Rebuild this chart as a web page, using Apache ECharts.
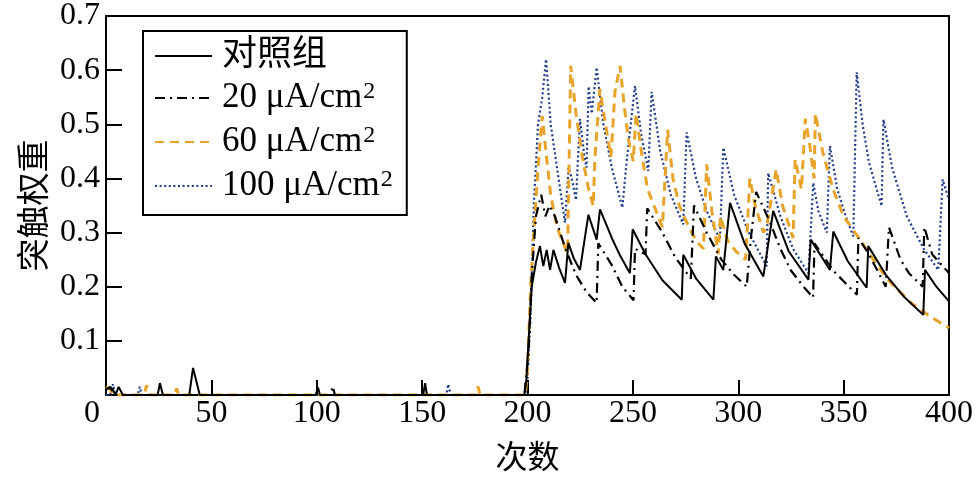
<!DOCTYPE html>
<html><head><meta charset="utf-8">
<script src="https://cdn.jsdelivr.net/npm/echarts@6/dist/echarts.min.js"></script>
<style>html,body{margin:0;padding:0;background:#fff}#c{width:978px;height:485px}</style>
</head><body><div id="c"></div>
<script>
const seriesNames = ['对照组', '20 μA/cm²', '60 μA/cm²', '100 μA/cm²'];
const xTickValues = [0, 50, 100, 150, 200, 250, 300, 350, 400];
const yTickValues = [0, 0.1, 0.2, 0.3, 0.4, 0.5, 0.6, 0.7];

const control = [[0,0.012],[3,0.012],[4.5,0],[6,0.015],[8,0],[24.5,0],[25.6,0.022],[27,0],[39.5,0],[41.3,0.05],[44.5,0],[99.5,0],[100.6,0.014],[101.5,0],[150.5,0],[151.4,0.022],[152.3,0],[198.5,0],[199.5,0.03],[200.8,0.12],[202,0.2],[204,0.245],[205.9,0.275],[207.5,0.238],[209.1,0.268],[210.7,0.231],[212.3,0.268],[215,0.235],[217.8,0.207],[219.4,0.281],[222,0.252],[224.9,0.231],[228.9,0.333],[232.8,0.287],[234.4,0.343],[240,0.29],[244,0.257],[248.6,0.225],[249.9,0.306],[256,0.26],[264,0.212],[273.2,0.176],[273.9,0.259],[280,0.215],[288.2,0.176],[289.4,0.256],[292.9,0.231],[296.1,0.355],[303,0.28],[311.9,0.219],[316.6,0.34],[324,0.265],[333.3,0.213],[334.4,0.287],[343.5,0.231],[345.1,0.302],[352,0.247],[360.9,0.198],[361.7,0.275],[370,0.222],[379,0.18],[387.8,0.148],[388.6,0.231],[394,0.2],[400,0.173]];

const ua20 = [[0,0.01],[2,0.015],[4,0],[106.5,0],[107.6,0.016],[108.6,0],[198.5,0],[200.5,0.08],[202,0.22],[204,0.33],[206.5,0.37],[208.5,0.33],[210.5,0.35],[213,0.33],[218,0.27],[223,0.222],[228,0.19],[232.8,0.17],[233.6,0.28],[240,0.24],[245,0.2],[250.3,0.175],[251,0.27],[256,0.26],[256.8,0.345],[264,0.3],[270,0.255],[277.5,0.215],[279,0.35],[285,0.3],[292,0.25],[298,0.222],[304,0.2],[306,0.29],[308.5,0.375],[315,0.32],[320,0.27],[325,0.23],[331,0.2],[335.5,0.18],[336.2,0.28],[345,0.23],[350,0.21],[356.3,0.185],[357,0.29],[362,0.26],[370,0.2],[371.5,0.31],[377,0.25],[381,0.225],[387.5,0.2],[388.3,0.31],[392,0.26],[400,0.225]];

const ua60 = [[0,0.015],[2,0.01],[4,0],[18,0],[19.3,0.018],[20.5,0],[32.5,0],[33.5,0.012],[34.5,0],[175.5,0],[176.5,0.016],[177.5,0],[199,0],[200,0.05],[201.5,0.2],[203,0.3],[205,0.42],[207,0.515],[209,0.44],[211,0.37],[214,0.31],[217,0.28],[219,0.262],[220.5,0.608],[223,0.52],[226,0.44],[229,0.38],[231.2,0.349],[232,0.44],[234.4,0.565],[237,0.5],[239.6,0.44],[241.5,0.56],[243.9,0.608],[246,0.53],[248,0.47],[250.2,0.432],[251.5,0.52],[254,0.45],[257,0.38],[261,0.34],[264,0.31],[266.5,0.49],[269,0.4],[272,0.35],[276,0.315],[280,0.285],[283.5,0.27],[285,0.426],[287.5,0.34],[290.5,0.26],[291.5,0.33],[295,0.285],[299,0.265],[303.5,0.25],[305.5,0.4],[308,0.35],[312,0.3],[313.5,0.31],[318,0.417],[321,0.35],[326,0.29],[327,0.435],[330,0.38],[331.8,0.51],[334,0.46],[336,0.4],[336.6,0.52],[340,0.45],[345,0.38],[350,0.33],[357.8,0.287],[363,0.256],[371,0.213],[382,0.17],[391,0.145],[400,0.124]];

const ua100 = [[0,0],[2,0],[3.3,0.02],[4.5,0],[15,0],[16,0.015],[17,0],[161.5,0],[162.4,0.02],[163.5,0],[199,0],[200,0.03],[201.5,0.15],[203,0.35],[205,0.5],[207,0.55],[208.8,0.62],[211,0.5],[214,0.42],[217.8,0.318],[219.5,0.42],[221,0.4],[223,0.36],[224.9,0.51],[227,0.44],[228,0.42],[229,0.57],[230.5,0.52],[232.8,0.605],[236,0.5],[240,0.42],[245,0.346],[247,0.43],[251,0.571],[254,0.48],[257.3,0.414],[258.9,0.56],[263,0.45],[268,0.37],[273.9,0.315],[275.5,0.485],[280,0.4],[285,0.34],[291.3,0.287],[292.9,0.457],[298,0.37],[305,0.3],[313.5,0.238],[314.2,0.41],[320,0.33],[326,0.27],[333.3,0.225],[335.6,0.392],[338,0.34],[342,0.3],[343.5,0.46],[347,0.38],[351,0.33],[354.6,0.293],[356.2,0.596],[359,0.5],[362,0.43],[368,0.349],[368.9,0.509],[373,0.42],[380,0.33],[388,0.27],[394.9,0.231],[397,0.398],[400,0.36]];

const serif = "'Liberation Serif', 'Times New Roman', serif";
const cjk = "'Noto Sans CJK SC', 'Liberation Serif', sans-serif";
const mixed = "'Liberation Serif', 'Noto Sans CJK SC', serif";

const chart = echarts.init(document.getElementById('c'), null, {renderer: 'canvas'});
const mk = (name, data, color, width, type, z) => ({
  name, type: 'line', data, symbol: 'none', showSymbol: false, z,
  lineStyle: {color, width, type}, itemStyle: {color}, animation: false
});
chart.setOption({
  animation: false,
  backgroundColor: '#fff',
  grid: {left: 106, right: 29, top: 16, bottom: 90, show: true, borderColor: '#000', borderWidth: 2, backgroundColor: 'transparent'},
  legend: {
    orient: 'vertical', left: 143, top: 31,
    data: seriesNames,
    itemWidth: 57, itemHeight: 14, itemGap: 6,
    padding: [7, 14, 9, 11],
    borderColor: '#000', borderWidth: 2, backgroundColor: '#fff',
    itemStyle: {opacity: 0, borderWidth: 0},
    formatter: name => name.indexOf('²') >= 0 ? '{b|' + name.replace('²', '') + '}{s|2}' : '{c|' + name + '}',
    textStyle: {
      fontFamily: mixed, fontSize: 35, color: '#000', lineHeight: 36, padding: [0, 0, 0, 5],
      rich: {
        b: {fontFamily: serif, fontSize: 35, color: '#000', lineHeight: 36},
        c: {fontFamily: mixed, fontSize: 35, color: '#000', lineHeight: 36},
        s: {fontFamily: serif, fontSize: 24, color: '#000', lineHeight: 36, verticalAlign: 'top', padding: [0, 0, 14, 1]}
      }
    },
    selectedMode: false
  },
  xAxis: {
    type: 'value', min: 0, max: 400, interval: 50,
    name: '次数', nameLocation: 'middle', nameGap: 45,
    nameTextStyle: {fontFamily: cjk, fontSize: 32, color: '#000'},
    axisLine: {lineStyle: {color: '#000', width: 2}},
    axisTick: {inside: true, length: 15, lineStyle: {color: '#000', width: 2}},
    axisLabel: {
      margin: 3, fontFamily: serif, fontSize: 32, color: '#000',
      formatter: v => v === 0 ? '{z|0}' : String(xTickValues.indexOf(v) >= 0 ? v : ''),
      rich: {z: {fontFamily: serif, fontSize: 32, color: '#000', padding: [0, 28, 0, 0]}}
    },
    splitLine: {show: false}
  },
  yAxis: {
    type: 'value', min: 0, max: 0.7, interval: 0.1,
    name: '突触权重', nameLocation: 'middle', nameGap: 57, nameRotate: 90,
    nameTextStyle: {fontFamily: cjk, fontSize: 33, color: '#000'},
    axisLine: {lineStyle: {color: '#000', width: 2}},
    axisTick: {inside: true, length: 16, lineStyle: {color: '#000', width: 2}},
    axisLabel: {
      margin: 6, fontFamily: serif, fontSize: 32, color: '#000',
      formatter: v => (v < 1e-9 ? '' : yTickValues.find(t => Math.abs(t - v) < 1e-6).toFixed(1))
    },
    splitLine: {show: false}
  },
  series: [
    mk(seriesNames[0], control, '#000000', 2, 'solid', 5),
    mk(seriesNames[1], ua20, '#000000', 2.2, [10, 5, 2, 5], 4),
    mk(seriesNames[2], ua60, '#E8A42A', 3, [9, 6], 3),
    mk(seriesNames[3], ua100, '#1E3A8A', 2.2, [2, 2.6], 2)
  ]
});
</script></body></html>
